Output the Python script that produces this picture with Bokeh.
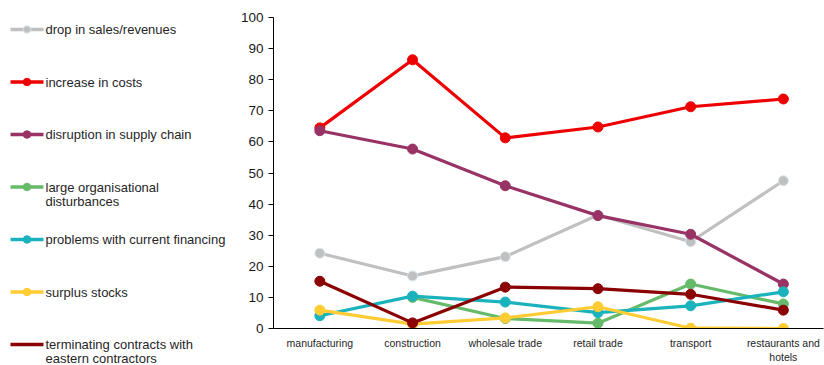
import numpy as np
from bokeh.plotting import figure
from bokeh.models import Range1d, FixedTicker, ColumnDataSource
from bokeh.layouts import row
from bokeh.embed import file_html
from bokeh.resources import INLINE
from bokeh.core.properties import value

nan = float("nan")

# Sectors on the x axis
sectors = ["manufacturing", "construction", "wholesale trade", "retail trade",
           "transport", "restaurants and\nhotels"]

# Share of firms (%) reporting each problem, by sector
drop_in_sales = [24.2, 16.9, 23.1, 36.5, 27.9, 47.5]
increase_in_costs = [64.5, 86.4, 61.3, 64.8, 71.3, 73.8]
supply_chain = [63.6, 57.7, 45.9, 36.3, 30.3, 14.3]
org_disturbances = [nan, 10.0, 3.2, 1.7, 14.3, 7.9]
current_financing = [4.1, 10.4, 8.5, 5.1, 7.3, 11.8]
surplus_stocks = [5.9, 1.4, 3.4, 7.0, 0.1, 0.0]
terminating_contracts = [15.2, 1.8, 13.3, 12.8, 11.0, 5.9]

series_labels = ["drop in sales/revenues", "increase in costs",
                 "disruption in supply chain",
                 "large organisational\ndisturbances",
                 "problems with current financing", "surplus stocks",
                 "terminating contracts with\neastern contractors"]
series_values = [drop_in_sales, increase_in_costs, supply_chain,
                 org_disturbances, current_financing, surplus_stocks,
                 terminating_contracts]
series_colors = ["#c0c0c0", "#ee0000", "#993366", "#66bb6a", "#1ab3bd",
                 "#ffcc33", "#8b0000"]
marker_edges = ["#d8e6ee", None, None, None, None, None, None]

y_ticks = list(range(0, 101, 10))

FONT = "Liberation Sans"
TOP, BOTTOM, HEIGHT = 17, 37, 365

# ---- main line chart ----
p = figure(width=592, height=HEIGHT, output_backend="svg", toolbar_location=None,
           x_range=Range1d(-0.5, 5.433), y_range=Range1d(0, 100),
           min_border_left=41, min_border_right=1, min_border_top=TOP,
           min_border_bottom=BOTTOM)
p.outline_line_color = None
p.grid.visible = False

xs = np.arange(len(sectors))
for vals, col, edge in zip(series_values, series_colors, marker_edges):
    src = ColumnDataSource(dict(x=xs, y=np.array(vals, dtype=float)))
    p.line("x", "y", source=src, line_color=col, line_width=3.2)
    p.scatter("x", "y", source=src, size=10, fill_color=col,
              line_color=edge if edge else col, line_width=1)

xa = p.xaxis[0]
xa.ticker = FixedTicker(ticks=list(xs))
xa.major_label_overrides = {int(i): s for i, s in zip(xs, sectors)}
xa.major_tick_line_color = None
xa.minor_tick_line_color = None
xa.axis_line_color = "#000000"
xa.axis_line_width = 1.2
xa.major_label_text_font = FONT
xa.major_label_text_font_size = "10.5px"
xa.major_label_text_color = "#262626"
xa.major_label_standoff = 2

ya = p.yaxis[0]
ya.ticker = FixedTicker(ticks=y_ticks)
ya.major_tick_in = 0
ya.major_tick_out = 5
ya.minor_tick_line_color = None
ya.axis_line_color = "#000000"
ya.major_tick_line_color = "#000000"
ya.major_label_text_font = FONT
ya.major_label_text_font_size = "13.5px"
ya.major_label_text_color = "#1a1a1a"
ya.major_label_standoff = 5

# ---- legend panel on the left (y measured in page pixels from the top) ----
leg = figure(width=232, height=HEIGHT, output_backend="svg", toolbar_location=None,
             x_range=Range1d(0, 232), y_range=Range1d(HEIGHT - BOTTOM, TOP),
             x_axis_type=None, y_axis_type=None, min_border_left=0,
             min_border_right=0, min_border_top=TOP, min_border_bottom=BOTTOM)
leg.outline_line_color = None
leg.grid.visible = False

row_gap = 52.5
first_row = 29
line_gap = 14
for i, (lab, col, edge) in enumerate(zip(series_labels, series_colors, marker_edges)):
    yc = first_row + i * row_gap
    leg.line([10, 43], [yc, yc], line_color=col, line_width=3.5, level="overlay")
    leg.scatter([26.5], [yc], size=7.5, fill_color=col,
                line_color=edge if edge else col, line_width=1, level="overlay")
    parts = lab.split("\n")
    leg.text(x=[45] * len(parts), y=[yc + k * line_gap for k in range(len(parts))],
             text=parts, text_font=value(FONT), text_font_size="13px",
             text_color="#262626", text_baseline="middle", text_align="left",
             level="overlay")

layout = row(leg, p)
open("out.html", "w").write(file_html(layout, INLINE))
